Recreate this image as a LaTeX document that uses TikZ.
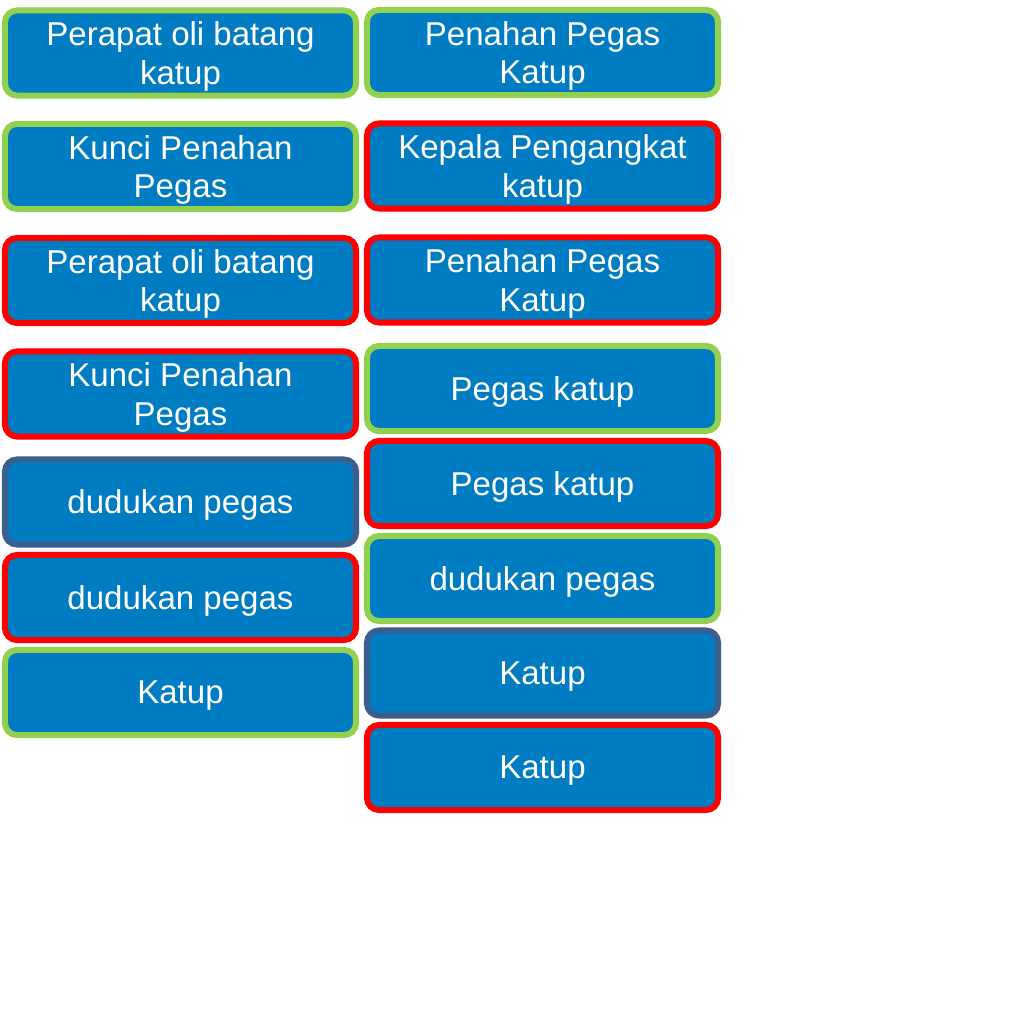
\documentclass[tikz,border=0pt]{standalone}
\usepackage{fontspec}
\setmainfont{Liberation Sans}
\usetikzlibrary{calc}

\definecolor{partblue}{RGB}{0,124,194}
\definecolor{okgreen}{RGB}{146,208,80}
\definecolor{badred}{RGB}{255,0,0}
\definecolor{slate}{RGB}{59,94,140}

\begin{document}
\begin{tikzpicture}[
      x=0.025cm,
      y=-0.025cm,
      part/.style={
                rectangle,
                rounded corners=0.3cm,
                line width=0.15cm,
                fill=partblue,
                text=white,
                align=center,
                text depth=-2pt,
                inner sep=0pt,
                minimum width=8.775cm,
                minimum height=2.125cm
                },
      good/.style={part, draw=okgreen},
      wrong/.style={part, draw=badred},
      plain/.style={part, draw=slate},
      every node/.style={font=\fontsize{23.5}{27.5}\selectfont}
]

\useasboundingbox (0,0) rectangle (1024,1024);

% left column
\node[good]  (sealL)   at (180.5,53)    {Perapat oli batang\\katup};
\node[good]  (lockL)   at (180.5,166.5) {Kunci Penahan\\Pegas};
\node[wrong] (sealLx)  at (180.5,280.5) {Perapat oli batang\\katup};
\node[wrong] (lockLx)  at (180.5,394)   {Kunci Penahan\\Pegas};
\node[plain] (seatL)   at (180.5,502)   {dudukan pegas};
\node[wrong] (seatLx)  at (180.5,597.5) {dudukan pegas};
\node[good]  (valveL)  at (180.5,692.5) {Katup};

% right column
\node[good]  (retR)    at (542.5,52.5)  {Penahan Pegas\\Katup};
\node[wrong] (headR)   at (542.5,166)   {Kepala Pengangkat\\katup};
\node[wrong] (retRx)   at (542.5,280)   {Penahan Pegas\\Katup};
\node[good]  (springR) at (542.5,388.5) {Pegas katup};
\node[wrong] (springRx) at (542.5,483.5) {Pegas katup};
\node[good]  (seatR)   at (542.5,578.5) {dudukan pegas};
\node[plain] (valveR)  at (542.5,673)   {Katup};
\node[wrong] (valveRx) at (542.5,767.5) {Katup};

\end{tikzpicture}
\end{document}
